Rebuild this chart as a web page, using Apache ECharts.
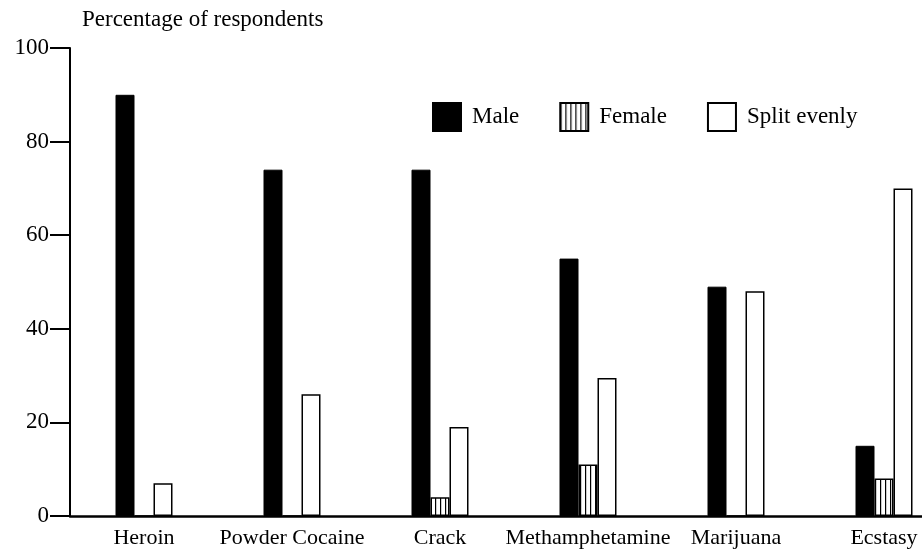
<!DOCTYPE html>
<html>
<head>
<meta charset="utf-8">
<script src="https://cdn.jsdelivr.net/npm/echarts@6/dist/echarts.min.js"></script>
<style>
  html, body { margin: 0; padding: 0; background: #fff; }
  #chart { width: 922px; height: 551px; }
</style>
</head>
<body>
<div id="chart"></div>
<script>
// categories and series values (percentage of respondents)
const categories = ["Heroin", "Powder Cocaine", "Crack", "Methamphetamine", "Marijuana", "Ecstasy"];
const maleValues = [90, 74, 74, 55, 49, 15];
const femaleValues = [0, 0, 4, 11, 0, 8];
const splitValues = [7, 26, 19, 29.5, 48, 70];
const yTicks = [0, 20, 40, 60, 80, 100];

const FONT = "'Liberation Serif', 'DejaVu Serif', serif";

// vertical stripe pattern for the Female bars
function stripePattern() {
  const c = document.createElement("canvas");
  c.width = 5;
  c.height = 10;
  const ctx = c.getContext("2d");
  ctx.fillStyle = "#fff";
  ctx.fillRect(0, 0, 5, 10);
  ctx.fillStyle = "#000";
  ctx.fillRect(0, 0, 1.2, 10);
  return { image: c, repeat: "repeat" };
}

const chart = echarts.init(document.getElementById("chart"), null, { renderer: "canvas" });

const option = {
  animation: false,
  backgroundColor: "#fff",
  textStyle: { fontFamily: FONT, color: "#000" },
  legend: {
    left: 427,
    top: 97,
    itemWidth: 28,
    itemHeight: 28,
    itemGap: 40,
    icon: "rect",
    textStyle: { fontFamily: FONT, fontSize: 23, color: "#000", padding: [0, 0, 0, 6] },
    data: ["Male", "Female", "Split evenly"]
  },
  grid: { left: 70, top: 48, bottom: 35, width: 888, outerBoundsMode: "none", containLabel: false },
  xAxis: {
    type: "category",
    data: categories,
    axisLine: { lineStyle: { color: "#000", width: 2.5 } },
    axisTick: { show: false },
    axisLabel: {
      interval: 0,
      margin: 11,
      fontFamily: FONT,
      fontSize: 22,
      color: "#000"
    }
  },
  yAxis: {
    type: "value",
    min: yTicks[0],
    max: yTicks[yTicks.length - 1],
    interval: 20,
    name: "Percentage of respondents",
    nameLocation: "end",
    nameGap: 17,
    nameTextStyle: { fontFamily: FONT, fontSize: 23, color: "#000", align: "left", padding: [0, 0, 0, 12] },
    splitLine: { show: false },
    axisLine: { show: true, lineStyle: { color: "#000", width: 2 } },
    axisTick: { show: true, inside: false, length: 20, lineStyle: { color: "#000", width: 2 } },
    axisLabel: { margin: 21, fontFamily: FONT, fontSize: 23, color: "#000" }
  },
  series: [
    {
      name: "Male",
      type: "bar",
      barWidth: 19,
      barGap: "0%",
      data: maleValues,
      itemStyle: { color: "#000", borderColor: "#000", borderWidth: 1 }
    },
    {
      name: "Female",
      type: "bar",
      barWidth: 19,
      barGap: "0%",
      data: femaleValues,
      itemStyle: { color: stripePattern(), borderColor: "#000", borderWidth: 1.5 }
    },
    {
      name: "Split evenly",
      type: "bar",
      barWidth: 19,
      barGap: "0%",
      data: splitValues,
      itemStyle: { color: "#fff", borderColor: "#000", borderWidth: 1.5 }
    }
  ]
};

chart.setOption(option);
</script>
</body>
</html>
